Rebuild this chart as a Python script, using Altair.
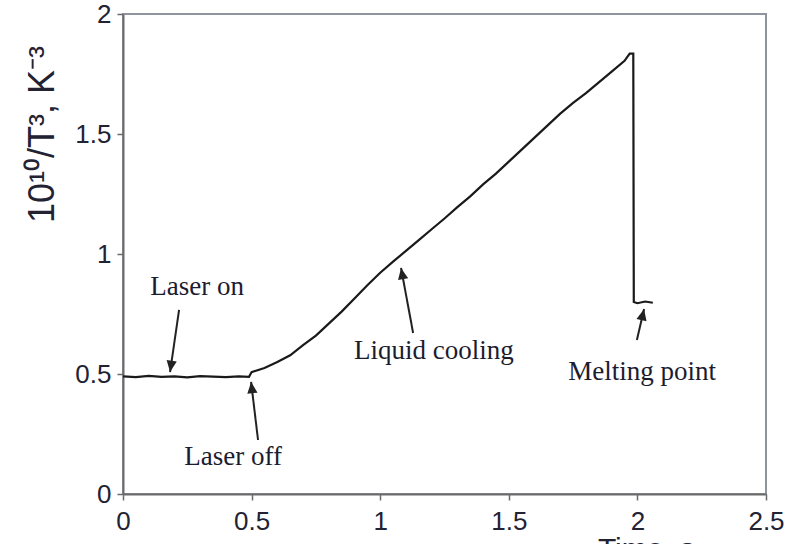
import math
import altair as alt
import pandas as pd

# ---- data ----
time_s = [0.0, 0.05, 0.1, 0.15, 0.2, 0.25, 0.3, 0.35, 0.4, 0.45, 0.49,
          0.5, 0.55, 0.6, 0.65, 0.7, 0.75, 0.8, 0.85, 0.9, 0.95,
          1.0, 1.05, 1.1, 1.15, 1.2, 1.25, 1.3, 1.35, 1.4, 1.45,
          1.5, 1.55, 1.6, 1.65, 1.7, 1.75, 1.8, 1.85, 1.9, 1.95,
          1.97, 1.984, 1.986, 2.0, 2.03, 2.06]
inv_t3 = [0.49, 0.487, 0.492, 0.488, 0.49, 0.486, 0.491, 0.489, 0.487, 0.49, 0.488,
          0.508, 0.525, 0.55, 0.578, 0.62, 0.66, 0.71, 0.76, 0.815, 0.87,
          0.922, 0.968, 1.013, 1.058, 1.103, 1.148, 1.195, 1.24, 1.29, 1.335,
          1.385, 1.435, 1.485, 1.535, 1.585, 1.63, 1.67, 1.715, 1.76, 1.805,
          1.835, 1.835, 0.80, 0.795, 0.802, 0.797]

ann_text = ["Laser on", "Laser off", "Liquid cooling", "Melting point"]
ann_x = [0.288, 0.428, 1.209, 2.018]
ann_y = [0.829, 0.121, 0.563, 0.475]

arrow_x = [0.218, 0.525, 1.128, 1.998]
arrow_y = [0.767, 0.225, 0.671, 0.642]
arrow_x2 = [0.183, 0.498, 1.081, 2.026]
arrow_y2 = [0.508, 0.467, 0.942, 0.771]

x_ticks = [0, 0.5, 1, 1.5, 2, 2.5]
y_ticks = [0, 0.5, 1, 1.5, 2]

# ---- layout ----
W, H = 643, 480
X_MAX, Y_MAX = 2.5, 2.0
sx, sy = W / X_MAX, H / Y_MAX

line_df = pd.DataFrame({"t": time_s, "v": inv_t3, "i": range(len(time_s))})
ann_df = pd.DataFrame({"label": ann_text, "x": ann_x, "y": ann_y})
angles = []
for tx, ty, hx, hy in zip(arrow_x, arrow_y, arrow_x2, arrow_y2):
    dxp = (hx - tx) * sx
    dyp = -(hy - ty) * sy
    angles.append(math.degrees(math.atan2(dxp, -dyp)) % 360)
arr_df = pd.DataFrame({"x": arrow_x, "y": arrow_y, "x2": arrow_x2, "y2": arrow_y2, "ang": angles})

xscale = alt.Scale(domain=[0, X_MAX], nice=False, zero=False)
yscale = alt.Scale(domain=[0, Y_MAX], nice=False, zero=False)

xaxis = alt.Axis(values=x_ticks, format="~g", title="Time, s", grid=False,
                 labelFont="Liberation Sans", labelFontSize=26, labelColor="#222233",
                 labelPadding=8, tickSize=6, tickColor="#6b6b6b", tickWidth=1.5,
                 domainColor="#6b6b6b", domainWidth=2,
                 titleFont="Liberation Sans", titleFontSize=30, titleFontWeight="normal",
                 titleColor="#222233", titleX=523, titleY=40, titleBaseline="top",
                 titleAlign="center", labelFlush=False)
yaxis = alt.Axis(values=y_ticks, format="~g", title="10¹⁰/T³, K⁻³", grid=False,
                 labelFont="Liberation Sans", labelFontSize=26, labelColor="#222233",
                 labelPadding=6, tickSize=6, tickColor="#6b6b6b", tickWidth=1.5,
                 domainColor="#6b6b6b", domainWidth=2,
                 titleFont="Liberation Sans", titleFontSize=36, titleFontWeight="normal",
                 titleColor="#222233", titleX=-70, titleY=120, titleAngle=-90,
                 titleAlign="center", titleBaseline="alphabetic", labelFlush=False)

line = alt.Chart(line_df).mark_line(color="#1a1a1a", strokeWidth=2.2, clip=True).encode(
    x=alt.X("t:Q", scale=xscale, axis=xaxis),
    y=alt.Y("v:Q", scale=yscale, axis=yaxis),
    order="i:Q",
)

shafts = alt.Chart(arr_df).mark_rule(color="#222222", strokeWidth=2).encode(
    x=alt.X("x:Q", scale=xscale), y=alt.Y("y:Q", scale=yscale),
    x2="x2:Q", y2="y2:Q",
)

heads = alt.Chart(arr_df).mark_point(
    shape="M0,0L0.45,1L-0.45,1Z", filled=True, color="#222222", opacity=1, size=520, strokeWidth=0
).encode(
    x=alt.X("x2:Q", scale=xscale), y=alt.Y("y2:Q", scale=yscale),
    angle=alt.Angle("ang:Q", scale=None),
)

labels = alt.Chart(ann_df).mark_text(
    font="Liberation Serif", fontSize=27, color="#1c1c30", align="center", baseline="alphabetic"
).encode(
    x=alt.X("x:Q", scale=xscale), y=alt.Y("y:Q", scale=yscale), text="label:N",
)

chart = alt.layer(line, shafts, heads, labels).properties(
    width=W, height=H,
    autosize=alt.AutoSizeParams(type="none"),
    padding={"left": 123, "top": 14, "right": 28, "bottom": 50},
    background="white",
).configure_view(stroke="#8f959c", strokeWidth=2)

chart.save("out.html", embed_options={"renderer": "svg", "actions": False})
